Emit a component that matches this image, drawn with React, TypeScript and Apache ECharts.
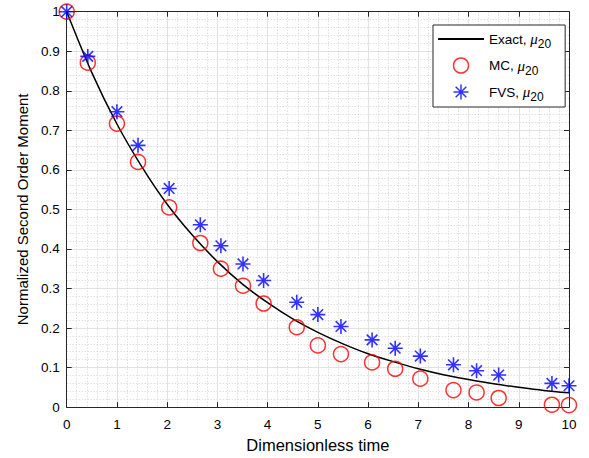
import React, { useEffect, useRef } from "react";
import * as echarts from "echarts";

// Exact solution curve
const exactT = [0, 0.5, 1, 1.5, 2, 2.5, 3, 3.5, 4, 4.5, 5, 5.5, 6, 6.5, 7, 7.5, 8, 8.5, 9, 9.5, 10];
const exactMu = [1.0, 0.846, 0.716, 0.607, 0.513, 0.435, 0.368, 0.311, 0.264, 0.223, 0.189, 0.160, 0.135, 0.115, 0.097, 0.082, 0.070, 0.059, 0.050, 0.042, 0.036];

// Sample times shared by MC and FVS markers
const sampleT = [0, 0.42, 1.0, 1.42, 2.04, 2.66, 3.07, 3.51, 3.92, 4.58, 5.0, 5.46, 6.08, 6.54, 7.04, 7.7, 8.16, 8.6, 9.66, 10];
const mcMu = [1.0, 0.871, 0.717, 0.620, 0.505, 0.415, 0.350, 0.307, 0.262, 0.202, 0.156, 0.134, 0.113, 0.097, 0.072, 0.043, 0.037, 0.023, 0.006, 0.005];
const fvsMu = [1.0, 0.887, 0.747, 0.662, 0.553, 0.461, 0.408, 0.362, 0.320, 0.265, 0.234, 0.204, 0.170, 0.149, 0.129, 0.107, 0.092, 0.081, 0.060, 0.054];

const seriesNames = ["Exact", "MC", "FVS"];
const xLabel = "Dimensionless time";
const yLabel = "Normalized Second Order Moment";

const FONT = "'Liberation Sans', Arial, Helvetica, sans-serif";
const AXIS_COLOR = "#262626";
const STAR = "path://M0,-10L0,10M-10,0L10,0M-7.07,-7.07L7.07,7.07M-7.07,7.07L7.07,-7.07";

export default function App() {
  const ref = useRef<HTMLDivElement>(null);
  useEffect(() => {
    if (!ref.current) return;
    const chart = echarts.init(ref.current, undefined, { renderer: "svg" });

    const axisLine = { show: true, onZero: false, lineStyle: { color: AXIS_COLOR, width: 1 } };
    const axisTick = { show: true, inside: true, length: 5, lineStyle: { color: AXIS_COLOR, width: 1 } };
    const splitLine = { show: true, lineStyle: { color: "#e2e2e2", width: 1 } };
    const minorSplitLine = { show: true, lineStyle: { color: "#d2d2d2", width: 1, type: [1, 2] } };

    const option: any = {
      animation: false,
      backgroundColor: "#ffffff",
      grid: { left: 66.7, right: 20, top: 11.7, bottom: 50, containLabel: false },
      xAxis: [
        {
          type: "value",
          min: 0,
          max: 10,
          interval: 1,
          name: xLabel,
          nameLocation: "middle",
          nameGap: 22,
          nameTextStyle: { fontFamily: FONT, fontSize: 16.5, color: "#000" },
          axisLine,
          axisTick,
          axisLabel: { margin: 10, fontFamily: FONT, fontSize: 13.5, color: "#000" },
          splitLine,
          minorTick: { show: false, splitNumber: 5 },
          minorSplitLine,
        },
        {
          type: "value",
          position: "top",
          min: 0,
          max: 10,
          interval: 1,
          axisLine,
          axisTick,
          axisLabel: { show: false },
          splitLine: { show: false },
        },
      ],
      yAxis: [
        {
          type: "value",
          min: 0,
          max: 1,
          interval: 0.1,
          name: yLabel,
          nameLocation: "middle",
          nameGap: 36,
          nameTextStyle: { fontFamily: FONT, fontSize: 15, color: "#000" },
          axisLine,
          axisTick,
          axisLabel: { margin: 7, fontFamily: FONT, fontSize: 13.5, color: "#000" },
          splitLine,
          minorTick: { show: false, splitNumber: 5 },
          minorSplitLine,
        },
        {
          type: "value",
          position: "right",
          min: 0,
          max: 1,
          interval: 0.1,
          axisLine,
          axisTick,
          axisLabel: { show: false },
          splitLine: { show: false },
        },
      ],
      legend: {
        orient: "vertical",
        left: 433,
        top: 25,
        backgroundColor: "#ffffff",
        borderColor: AXIS_COLOR,
        borderWidth: 1,
        borderRadius: 0,
        padding: [3, 14, 4, 4],
        itemGap: 4.5,
        itemWidth: 46,
        itemHeight: 15,
        data: [
          { name: seriesNames[0], itemStyle: { color: "transparent", borderColor: "transparent", borderWidth: 0, opacity: 0 } },
          { name: seriesNames[1], itemStyle: { color: "transparent", borderColor: "#ff0000", borderWidth: 1.5 } },
          { name: seriesNames[2], itemStyle: { color: "#0000ff", borderColor: "#0000ff", borderWidth: 1.5 } },
        ],
        formatter: (name: string) => `{n|${name}, }{m|\u03bc}{s|20}`,
        textStyle: {
          color: "#000",
          rich: {
            n: { fontFamily: FONT, fontSize: 13.5, color: "#000", lineHeight: 18 },
            m: { fontFamily: "'Liberation Serif', 'DejaVu Serif', serif", fontStyle: "italic", fontSize: 15, color: "#000", lineHeight: 18 },
            s: { fontFamily: FONT, fontSize: 12, color: "#000", lineHeight: 12, padding: [10, 0, 0, 0] },
          },
        },
      },
      series: [
        {
          name: seriesNames[0],
          type: "line",
          xAxisIndex: 0,
          yAxisIndex: 0,
          data: exactT.map((t, i) => [t, exactMu[i]]),
          symbol: "none",
          smooth: 0.3,
          lineStyle: { color: "#000000", width: 1.5 },
          itemStyle: { color: "#000000" },
          z: 2,
        },
        {
          name: seriesNames[1],
          type: "scatter",
          xAxisIndex: 0,
          yAxisIndex: 0,
          data: sampleT.map((t, i) => [t, mcMu[i]]),
          symbol: "circle",
          symbolSize: 15,
          itemStyle: { color: "transparent", borderColor: "#ff0000", borderWidth: 1.5 },
          z: 3,
        },
        {
          name: seriesNames[2],
          type: "scatter",
          xAxisIndex: 0,
          yAxisIndex: 0,
          data: sampleT.map((t, i) => [t, fvsMu[i]]),
          symbol: STAR,
          symbolKeepAspect: true,
          symbolSize: 15,
          itemStyle: { color: "#0000ff", borderColor: "#0000ff", borderWidth: 1.6 },
          z: 4,
        },
      ],
    };
    chart.setOption(option);
    return () => chart.dispose();
  }, []);

  return (
    <div
      ref={ref}
      style={{ position: "fixed", left: 0, top: 0, width: 589, height: 458, background: "#fff" }}
    />
  );
}
